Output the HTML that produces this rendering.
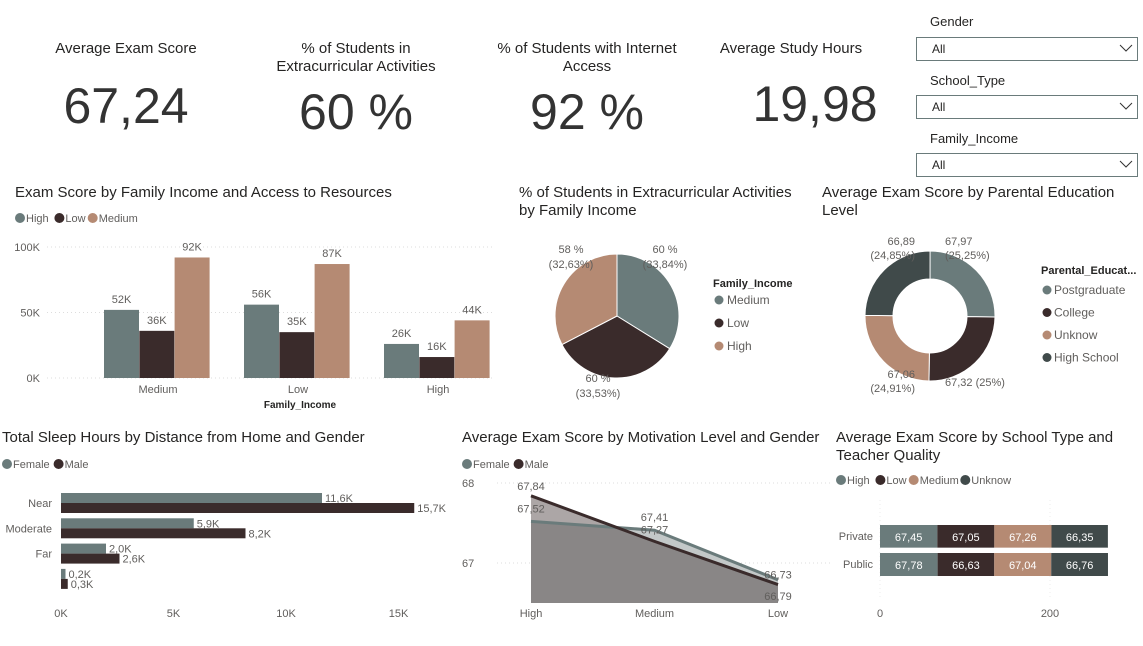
<!DOCTYPE html>
<html><head><meta charset="utf-8"><style>
body{margin:0;background:#fff;font-family:"Liberation Sans",sans-serif;}
svg text{font-family:"Liberation Sans",sans-serif;}
</style></head><body>
<svg id="s" width="1143" height="641" xmlns="http://www.w3.org/2000/svg">
<g fill="#252423" text-anchor="middle">
<text x="126" y="53" font-size="15">Average Exam Score</text>
<text x="126" y="123" font-size="50" fill="#333">67,24</text>
<text x="356" y="53" font-size="15">% of Students in</text>
<text x="356" y="71" font-size="15">Extracurricular Activities</text>
<text x="356" y="129" font-size="50" fill="#333">60 %</text>
<text x="587" y="53" font-size="15">% of Students with Internet</text>
<text x="587" y="71" font-size="15">Access</text>
<text x="587" y="129" font-size="50" fill="#333">92 %</text>
<text x="791" y="53" font-size="15">Average Study Hours</text>
<text x="815" y="121" font-size="50" fill="#333">19,98</text>
</g>
<g font-size="13" fill="#252423">
<text x="930" y="26">Gender</text>
<rect x="916.5" y="37.5" width="221" height="23" fill="#fff" stroke="#6a7b7b"/>
<text x="932" y="53" font-size="12">All</text><path d="M1120 45l6 6 6-6" fill="none" stroke="#333"/>
<text x="930" y="85">School_Type</text>
<rect x="916.5" y="95.5" width="221" height="23" fill="#fff" stroke="#6a7b7b"/>
<text x="932" y="111" font-size="12">All</text><path d="M1120 103l6 6 6-6" fill="none" stroke="#333"/>
<text x="930" y="143">Family_Income</text>
<rect x="916.5" y="153.5" width="221" height="23" fill="#fff" stroke="#6a7b7b"/>
<text x="932" y="169" font-size="12">All</text><path d="M1120 161l6 6 6-6" fill="none" stroke="#333"/>
</g>
<g fill="#252423" font-size="15">
<text x="15" y="197">Exam Score by Family Income and Access to Resources</text>
<text x="519" y="197">% of Students in Extracurricular Activities</text>
<text x="519" y="215">by Family Income</text>
<text x="822" y="197">Average Exam Score by Parental Education</text>
<text x="822" y="215">Level</text>
<text x="2" y="442">Total Sleep Hours by Distance from Home and Gender</text>
<text x="462" y="442">Average Exam Score by Motivation Level and Gender</text>
<text x="836" y="442">Average Exam Score by School Type and</text>
<text x="836" y="460">Teacher Quality</text>
</g>
<g id="c1"></g>
<g id="c2"></g>
<g id="c3"></g>
<g id="c4"></g>
<g id="c5"></g>
<g id="c6"></g>
</svg>
<script>
const NS="http://www.w3.org/2000/svg";
function mk(p,tag,a,txt){const e=document.createElementNS(NS,tag);for(const k in a)e.setAttribute(k,a[k]);if(txt!==undefined)e.textContent=txt;p.appendChild(e);return e;}
const C={High:"#6a7b7b",Low:"#3a2b2b",Medium:"#b58a73",Unknow:"#404a4a"};
function legend(g,x,y,items,cols){let cx=x;items.forEach((it,i)=>{mk(g,"circle",{cx:cx+5,cy:y-4,r:5,fill:cols[i]});const t=mk(g,"text",{x:cx+11,y:y,"font-size":11,fill:"#605e5c"},it);


cx+=15+it.length*6.1;});}

// Chart 1
const c1Cats=["Medium","Low","High"];
const c1Series=["High","Low","Medium"];
const c1Vals=[[52,56,26],[36,35,16],[92,87,44]];
const c1Ticks=[0,50,100];
(function(){const g=document.getElementById("c1");legend(g,15,222,c1Series,c1Series.map(s=>C[s]));
const y=v=>378-v*1.31;
c1Ticks.forEach(t=>{mk(g,"line",{x1:47,x2:492,y1:y(t),y2:y(t),stroke:"#ddd","stroke-dasharray":"1 3"});mk(g,"text",{x:40,y:y(t)+4,"font-size":11,fill:"#605e5c","text-anchor":"end"},t+"K");});
c1Cats.forEach((c,i)=>{const cx=158+i*140;
mk(g,"text",{x:cx,y:393,"font-size":11,fill:"#605e5c","text-anchor":"middle"},c);
c1Series.forEach((s,j)=>{const v=c1Vals[j][i];const x=cx-54+j*35.3;
const r=mk(g,"rect",{x:x,y:y(v),width:35,height:378-y(v),fill:C[s]});


mk(g,"text",{x:x+17.5,y:y(v)-7,"font-size":11,fill:"#605e5c","text-anchor":"middle"},v+"K");});});
mk(g,"text",{x:300,y:408,"font-size":10,fill:"#252423","text-anchor":"middle","font-weight":"bold"},"Family_Income");})();

// Chart 2 pie
const pieCats=["Medium","Low","High"];
const piePct=[33.84,33.53,32.63];
const pieLbl=["60 %","60 %","58 %"];
(function(){const g=document.getElementById("c2");const cx=617,cy=316,r=62;let a=0;
const PC={Medium:"#6a7b7b",Low:"#3a2b2b",High:"#b58a73"};
const lp=[[640,253,"start"],[598,382,"middle"],[596,253,"end"]];
pieCats.forEach((c,i)=>{const a2=a+piePct[i]/100*2*Math.PI;const p=(t)=>[cx+r*Math.sin(t),cy-r*Math.cos(t)];const [x1,y1]=p(a),[x2,y2]=p(a2);
const s=mk(g,"path",{d:`M${cx},${cy}L${x1},${y1}A${r},${r} 0 ${a2-a>Math.PI?1:0} 1 ${x2},${y2}Z`,fill:PC[c],stroke:"#fff","stroke-width":1});


const [lx,ly,anc]=lp[i];
mk(g,"text",{x:lx+(anc=="start"?25:anc=="end"?-25:0),y:ly,"font-size":11,fill:"#605e5c","text-anchor":"middle"},pieLbl[i]);
mk(g,"text",{x:lx+(anc=="start"?25:anc=="end"?-25:0),y:ly+15,"font-size":11,fill:"#605e5c","text-anchor":"middle"},"("+piePct[i].toFixed(2).replace(".",",")+"%)");
a=a2;});
mk(g,"text",{x:713,y:287,"font-size":11,"font-weight":"bold",fill:"#252423"},"Family_Income");
pieCats.forEach((c,i)=>{mk(g,"circle",{cx:719,cy:300+i*23,r:4.5,fill:PC[c]});mk(g,"text",{x:727,y:304+i*23,"font-size":12,fill:"#605e5c"},c);});})();

// Chart 3 donut
const dCats=["Postgraduate","College","Unknow","High School"];
const dVals=[67.97,67.32,67.06,66.89];
const dPct=[25.25,25,24.91,24.85];
const dCols=["#6a7b7b","#3a2b2b","#b58a73","#404a4a"];
(function(){const g=document.getElementById("c3");const cx=930,cy=316,R=65,ri=37;let a=0;
const pos=[[945,245,"start"],[945,386,"start"],[915,378,"end"],[915,245,"end"]];
dCats.forEach((c,i)=>{const a2=a+dPct[i]/99.99*2*Math.PI;const p=(t,r)=>[cx+r*Math.sin(t),cy-r*Math.cos(t)];
const [x1,y1]=p(a,R),[x2,y2]=p(a2,R),[x3,y3]=p(a2,ri),[x4,y4]=p(a,ri);
const s=mk(g,"path",{d:`M${x1},${y1}A${R},${R} 0 0 1 ${x2},${y2}L${x3},${y3}A${ri},${ri} 0 0 0 ${x4},${y4}Z`,fill:dCols[i],stroke:"#fff","stroke-width":1});


const v=dVals[i].toFixed(2).replace(".",",");const pc="("+String(dPct[i]).replace(".",",")+"%)";
const [lx,ly,an]=pos[i];
if(i==1){mk(g,"text",{x:lx,y:ly,"font-size":11,fill:"#605e5c","text-anchor":an},v+" "+pc);}
else{mk(g,"text",{x:lx,y:ly,"font-size":11,fill:"#605e5c","text-anchor":an},v);mk(g,"text",{x:lx,y:ly+14,"font-size":11,fill:"#605e5c","text-anchor":an},pc);}
a=a2;});
mk(g,"text",{x:1041,y:274,"font-size":11,"font-weight":"bold",fill:"#252423"},"Parental_Educat...");
dCats.forEach((c,i)=>{mk(g,"circle",{cx:1047,cy:290+i*22.5,r:4.5,fill:dCols[i]});mk(g,"text",{x:1054,y:294+i*22.5,"font-size":12,fill:"#605e5c"},c);});})();

// Chart 4 sleep
const sCats=["Near","Moderate","Far",""];
const sFemale=[11.6,5.9,2.0,0.2];
const sMale=[15.7,8.2,2.6,0.3];
const sTicks=[0,5,10,15];
(function(){const g=document.getElementById("c4");legend(g,2,468,["Female","Male"],["#6a7b7b","#3a2b2b"]);
const x=v=>61+v*22.5;
sTicks.forEach(t=>mk(g,"text",{x:x(t),y:617,"font-size":11,fill:"#605e5c","text-anchor":"middle"},t+"K"));
sCats.forEach((c,i)=>{const cy=503+i*25.3;mk(g,"text",{x:52,y:cy+4,"font-size":11,fill:"#605e5c","text-anchor":"end"},c);
[[sFemale,"#6a7b7b",-10,"female"],[sMale,"#3a2b2b",0,"male"]].forEach(([arr,col,off,nm])=>{const v=arr[i];
const r=mk(g,"rect",{x:61,y:cy+off,width:x(v)-61,height:10,fill:col});


mk(g,"text",{x:x(v)+3,y:cy+off+9,"font-size":11,fill:"#605e5c"},v.toFixed(1).replace(".",",")+"K");});});})();

// Chart 5 area
const mCats=["High","Medium","Low"];
const mFemale=[67.52,67.41,66.79];
const mMale=[67.84,67.27,66.73];
const mTicks=[67,68];
(function(){const g=document.getElementById("c5");legend(g,462,468,["Female","Male"],["#6a7b7b","#3a2b2b"]);
const y=v=>563-(v-67)*80,x=i=>531+i*123.5,base=603;
mTicks.forEach(t=>{mk(g,"line",{x1:497,x2:830,y1:y(t),y2:y(t),stroke:"#ddd","stroke-dasharray":"1 3"});mk(g,"text",{x:462,y:y(t)+4,"font-size":11,fill:"#605e5c"},t);});
mCats.forEach((c,i)=>mk(g,"text",{x:x(i),y:617,"font-size":11,fill:"#605e5c","text-anchor":"middle"},c));
const pts=a=>a.map((v,i)=>x(i)+","+y(v)).join(" ");
const area=a=>`${x(0)},${base} `+pts(a)+` ${x(2)},${base}`;
mk(g,"polygon",{points:area(mFemale),fill:"#c3c8c8"});
mk(g,"polygon",{points:area(mMale),fill:"rgba(58,43,43,0.42)"});
const lf=mk(g,"polyline",{points:pts(mFemale),fill:"none",stroke:"#6a7b7b","stroke-width":3});


const lm=mk(g,"polyline",{points:pts(mMale),fill:"none",stroke:"#3a2b2b","stroke-width":3});


const f=v=>v.toFixed(2).replace(".",",");
mk(g,"text",{x:x(0),y:y(mFemale[0])-9,"font-size":11,fill:"#605e5c","text-anchor":"middle"},f(mFemale[0]));
mk(g,"text",{x:x(0),y:y(mMale[0])-6,"font-size":11,fill:"#605e5c","text-anchor":"middle"},f(mMale[0]));
mk(g,"text",{x:x(1),y:y(mFemale[1])-9,"font-size":11,fill:"#605e5c","text-anchor":"middle"},f(mFemale[1]));
mk(g,"text",{x:x(1),y:y(mMale[1])-8,"font-size":11,fill:"#605e5c","text-anchor":"middle"},f(mMale[1]));
mk(g,"text",{x:x(2),y:y(mMale[2])-6,"font-size":11,fill:"#605e5c","text-anchor":"middle"},f(mMale[2]));
mk(g,"text",{x:x(2),y:y(mFemale[2])+20,"font-size":11,fill:"#605e5c","text-anchor":"middle"},f(mFemale[2]));})();

// Chart 6 stacked
const tRows=["Private","Public"];
const tSeries=["High","Low","Medium","Unknow"];
const tVals=[[67.45,67.78],[67.05,66.63],[67.26,67.04],[66.35,66.76]];
const tTicks=[0,200];
(function(){const g=document.getElementById("c6");legend(g,836,484,tSeries,tSeries.map(s=>C[s]));
const x=v=>880+v*0.85;
tTicks.forEach(t=>{mk(g,"line",{x1:x(t),x2:x(t),y1:500,y2:600,stroke:"#eee","stroke-dasharray":"1 3"});mk(g,"text",{x:x(t),y:617,"font-size":11,fill:"#605e5c","text-anchor":"middle"},t);});
tRows.forEach((rw,i)=>{const ty=525+i*28;mk(g,"text",{x:873,y:ty+15,"font-size":11,fill:"#605e5c","text-anchor":"end"},rw);let acc=0;
tSeries.forEach((s,j)=>{const v=tVals[j][i];
const r=mk(g,"rect",{x:x(acc),y:ty,width:v*0.85,height:23,fill:C[s]});


mk(g,"text",{x:x(acc)+v*0.425,y:ty+16,"font-size":11,fill:"#fff","text-anchor":"middle"},v.toFixed(2).replace(".",","));acc+=v;});});
mk(g,"rect",{x:880,y:547,width:x(tVals.reduce((a,c)=>a+c[0],0))-880,height:6,fill:"rgba(255,255,255,0.35)"});})();
</script>
</body></html>
